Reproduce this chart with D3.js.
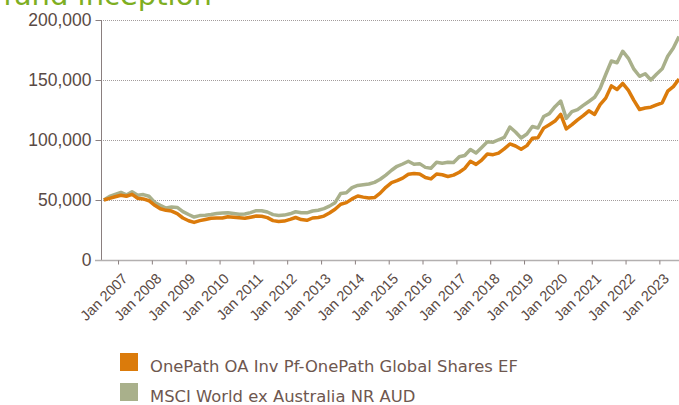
<!DOCTYPE html>
<html><head><meta charset="utf-8">
<script src="https://cdn.jsdelivr.net/npm/d3@7"></script>
<style>
html,body{margin:0;padding:0;background:#fff;overflow:hidden}
svg{display:block}
</style></head><body>
<svg id="chart" width="679" height="405"></svg>
<script>
const titleText = "fund inception";
const seriesNames = ["OnePath OA Inv Pf-OnePath Global Shares EF", "MSCI World ex Australia NR AUD"];
const seriesColors = ["#db7b0b", "#a9b08b"];
const months = [
"2006-08","2006-10","2006-12",
"2007-02","2007-04","2007-06","2007-08","2007-10","2007-12",
"2008-02","2008-04","2008-06","2008-08","2008-10","2008-12",
"2009-02","2009-04","2009-06","2009-08","2009-10","2009-12",
"2010-02","2010-04","2010-06","2010-08","2010-10","2010-12",
"2011-02","2011-04","2011-06","2011-08","2011-10","2011-12",
"2012-02","2012-04","2012-06","2012-08","2012-10","2012-12",
"2013-02","2013-04","2013-06","2013-08","2013-10","2013-12",
"2014-02","2014-04","2014-06","2014-08","2014-10","2014-12",
"2015-02","2015-04","2015-06","2015-08","2015-10","2015-12",
"2016-02","2016-04","2016-06","2016-08","2016-10","2016-12",
"2017-02","2017-04","2017-06","2017-08","2017-10","2017-12",
"2018-02","2018-04","2018-06","2018-08","2018-10","2018-12",
"2019-02","2019-04","2019-06","2019-08","2019-10","2019-12",
"2020-02","2020-04","2020-06","2020-08","2020-10","2020-12",
"2021-02","2021-04","2021-06","2021-08","2021-10","2021-12",
"2022-02","2022-04","2022-06","2022-08","2022-10","2022-12",
"2023-02","2023-04","2023-06","2023-08"];
const fundValues = [
50000,51400,52700,54000,53100,54700,51500,50900,49400,45600,
42700,41400,40800,38700,35000,32700,31300,32800,33800,34800,
35000,35000,36100,35600,35200,34800,35700,36600,36400,35300,
32800,32100,32400,33800,35400,33700,33100,35000,35400,36600,
39200,42300,46500,47800,50900,53300,52400,51600,52000,55700,
60600,64500,66100,68200,71400,72100,71700,68800,67600,71700,
71000,69600,70700,73100,76300,82300,79700,83300,88300,87800,
89100,92600,96700,95000,92300,95300,101400,101900,109900,112800,
115800,121300,109200,112800,116800,120300,124300,121300,129400,134900,
145100,142100,147100,141300,133000,125400,126700,127300,129200,131000,
140700,144500,150800];
const indexValues = [
50000,52900,54600,56300,54200,56800,53900,54500,53100,47900,
45500,43300,44200,43800,40300,37900,35800,37000,37300,37900,
38800,39100,39400,38700,38100,38300,39500,41100,41100,40000,
37800,37100,37400,38500,40200,39400,39300,40800,41500,42800,
44900,47800,55500,56000,60300,62100,62700,63300,64700,67300,
70800,74800,78100,80000,82300,79800,80300,77200,76500,81400,
80700,81500,81300,86000,87100,92100,89200,93800,98500,98200,
100200,102100,110800,106700,101700,105000,111200,110000,119600,122000,
127800,132500,118000,123700,125300,128800,132100,135600,142900,154600,
165800,164400,174000,168100,159000,153100,155200,150000,154800,159300,
169800,176700,186300];
const yTicks = [0, 50000, 100000, 150000, 200000];
const xTickMonths = ["2007-01","2008-01","2009-01","2010-01","2011-01","2012-01","2013-01","2014-01","2015-01","2016-01","2017-01","2018-01","2019-01","2020-01","2021-01","2022-01","2023-01"];
const xTickLabels = ["Jan 2007","Jan 2008","Jan 2009","Jan 2010","Jan 2011","Jan 2012","Jan 2013","Jan 2014","Jan 2015","Jan 2016","Jan 2017","Jan 2018","Jan 2019","Jan 2020","Jan 2021","Jan 2022","Jan 2023"];

(function draw() {
const parse = d3.timeParse("%Y-%m");
const svg = d3.select("#chart");
const pl = 101, pr = 679, pt = 20, pb = 260;
const axisFont = "'Liberation Sans', Arial, sans-serif";
const legendFont = "'DejaVu Sans', Verdana, sans-serif";

const x = d3.scaleTime().domain([parse("2006-07"), parse("2023-08")]).range([pl, pr]);
const y = d3.scaleLinear().domain([0, 200000]).range([pb, pt]);

svg.append("text").attr("x", 3).attr("y", 5)
  .attr("font-family", legendFont).attr("font-size", 29)
  .attr("fill", "#7eae22").text(titleText);

svg.append("g").selectAll("line").data(yTicks.filter(d => d > 0)).join("line")
  .attr("x1", pl).attr("x2", pr).attr("y1", d => y(d) + 0.5).attr("y2", d => y(d) + 0.5)
  .attr("stroke", "#a39c9c").attr("stroke-width", 1).attr("stroke-dasharray", "1,1");

const yAxis = svg.append("g").attr("transform", `translate(${pl + 0.5},0)`)
  .call(d3.axisLeft(y).tickValues(yTicks).tickFormat(d3.format(",")).tickSize(6).tickPadding(4));
yAxis.select(".domain").attr("stroke", "#8a7f7f").attr("d", `M0,${pt}V${pb}`);
yAxis.selectAll(".tick line").attr("stroke", "#8a7f7f");
yAxis.selectAll(".tick text").attr("font-family", axisFont)
  .attr("font-size", 17.5).attr("fill", "#5a4a44");

const tickDates = xTickMonths.map(parse);
const xAxis = svg.append("g").attr("transform", `translate(0,${pb + 0.5})`)
  .call(d3.axisBottom(x).tickValues(tickDates).tickSize(4).tickFormat((d, i) => xTickLabels[i]));
xAxis.select(".domain").attr("stroke", "#b3b0b0").attr("stroke-width", 1.5).attr("d", `M${pl - 6},0H${pr}`);
xAxis.selectAll(".tick line").attr("stroke", "#8a7f7f");
xAxis.selectAll(".tick text")
  .attr("font-family", axisFont).attr("font-size", 14.5)
  .attr("fill", "#5a4a44").attr("text-anchor", "end")
  .attr("x", 0).attr("y", 0).attr("dy", 0)
  .attr("transform", "translate(10,19) rotate(-45)");

const line = d3.line().x(d => x(d.date)).y(d => y(d.v));
const idxData = months.map((m, i) => ({date: parse(m), v: indexValues[i]}));
const fundData = months.map((m, i) => ({date: parse(m), v: fundValues[i]}));
svg.append("path").datum(idxData).attr("d", line).attr("fill", "none")
  .attr("stroke", seriesColors[1]).attr("stroke-width", 3.5).attr("stroke-linejoin", "round");
svg.append("path").datum(fundData).attr("d", line).attr("fill", "none")
  .attr("stroke", seriesColors[0]).attr("stroke-width", 3.5).attr("stroke-linejoin", "round");

const legend = svg.append("g");
seriesNames.forEach((name, i) => {
  legend.append("rect").attr("x", 120).attr("y", 353 + i * 30).attr("width", 18).attr("height", 18)
    .attr("fill", seriesColors[i]);
  legend.append("text").attr("x", 150).attr("y", 372 + i * 30)
    .attr("font-family", legendFont).attr("font-size", 16.4)
    .attr("fill", "#6e574f").text(name);
});
})();
</script>
</body></html>
